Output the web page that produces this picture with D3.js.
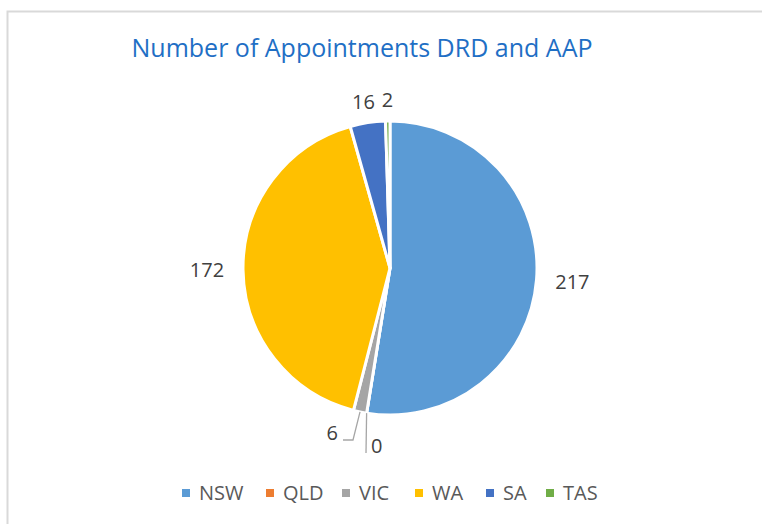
<!DOCTYPE html>
<html>
<head>
<meta charset="utf-8">
<script src="https://cdn.jsdelivr.net/npm/d3@7"></script>
<style>
  body { margin: 0; background: #fff; }
  svg { display: block; }
</style>
</head>
<body>
<svg id="chart"></svg>
<script>
// data
const states = ["NSW", "QLD", "VIC", "WA", "SA", "TAS"];
const appointments = [217, 0, 6, 172, 16, 2];
const colors = ["#5B9BD5", "#ED7D31", "#A5A5A5", "#FFC000", "#4472C4", "#70AD47"];

const width = 762, height = 524;
const cx = 390, cy = 268, radius = 147;
const font = "'Open Sans', sans-serif";

const svg = d3.select("#chart")
  .attr("width", width)
  .attr("height", height);

// chart area border (Excel style)
svg.append("rect")
  .attr("x", 7.5).attr("y", 11.5)
  .attr("width", width).attr("height", height)
  .attr("fill", "none")
  .attr("stroke", "#d9d9d9")
  .attr("stroke-width", 2);

svg.append("text")
  .attr("x", 362).attr("y", 57)
  .attr("text-anchor", "middle")
  .style("font-family", font)
  .style("font-size", "25px")
  .style("fill", "#1F6FC5")
  .text("Number of Appointments DRD and AAP");

const pieData = d3.pie().sort(null).value(d => d.value)(
  states.map((s, i) => ({ name: s, value: appointments[i], color: colors[i] }))
);

const arc = d3.arc().innerRadius(0).outerRadius(radius);

const g = svg.append("g").attr("transform", `translate(${cx},${cy})`);

g.selectAll("path")
  .data(pieData)
  .enter()
  .append("path")
    .attr("d", arc)
    .style("fill", d => d.data.color)
    .style("stroke", "#fff")
    .style("stroke-width", 3)
    .style("stroke-linejoin", "round");

// labels outside end; the two tiny bottom slices get leader lines
const leaders = {
  VIC: { elbow: [-37, 172], end: [-47, 172], anchor: "end", text: [-52, 165] },
  QLD: { elbow: [-24, 185], end: null, anchor: "start", text: [-19, 178] }
};
const gap = 20;

pieData.forEach(d => {
  const a = (d.startAngle + d.endAngle) / 2;
  const sx = Math.sin(a), sy = -Math.cos(a);
  const lead = leaders[d.data.name];
  let tx, ty, anchor = "middle";
  if (lead) {
    const p0 = [sx * radius, sy * radius];
    const pts = [p0, lead.elbow];
    if (lead.end) pts.push(lead.end);
    g.append("path")
      .attr("d", d3.line()(pts))
      .style("fill", "none")
      .style("stroke", "#a6a6a6")
      .style("stroke-width", 1.3);
    [tx, ty] = lead.text;
    anchor = lead.anchor;
  } else {
    const r = radius + (Math.abs(sy) > 0.9 ? 12 : gap);
    tx = sx * r + sx * 16;
    ty = sy * r + sy * 9;
  }
  g.append("text")
    .attr("x", tx).attr("y", ty)
    .attr("dy", "0.35em")
    .attr("text-anchor", anchor)
    .style("font-family", font)
    .style("font-size", "20px")
    .style("fill", "#404040")
    .text(d.data.value);
});

// legend
const legendX = [186, 270, 346, 419, 490, 550];
const legend = svg.append("g");
states.forEach((s, i) => {
  const item = legend.append("g").attr("transform", `translate(${legendX[i]},493)`);
  item.append("rect")
    .attr("x", -4).attr("y", -4)
    .attr("width", 8).attr("height", 8)
    .style("fill", colors[i]);
  item.append("text")
    .attr("x", 13).attr("y", 0)
    .attr("dy", "0.35em")
    .style("font-family", font)
    .style("font-size", "20px")
    .style("fill", "#595959")
    .text(s);
});
</script>
</body>
</html>
